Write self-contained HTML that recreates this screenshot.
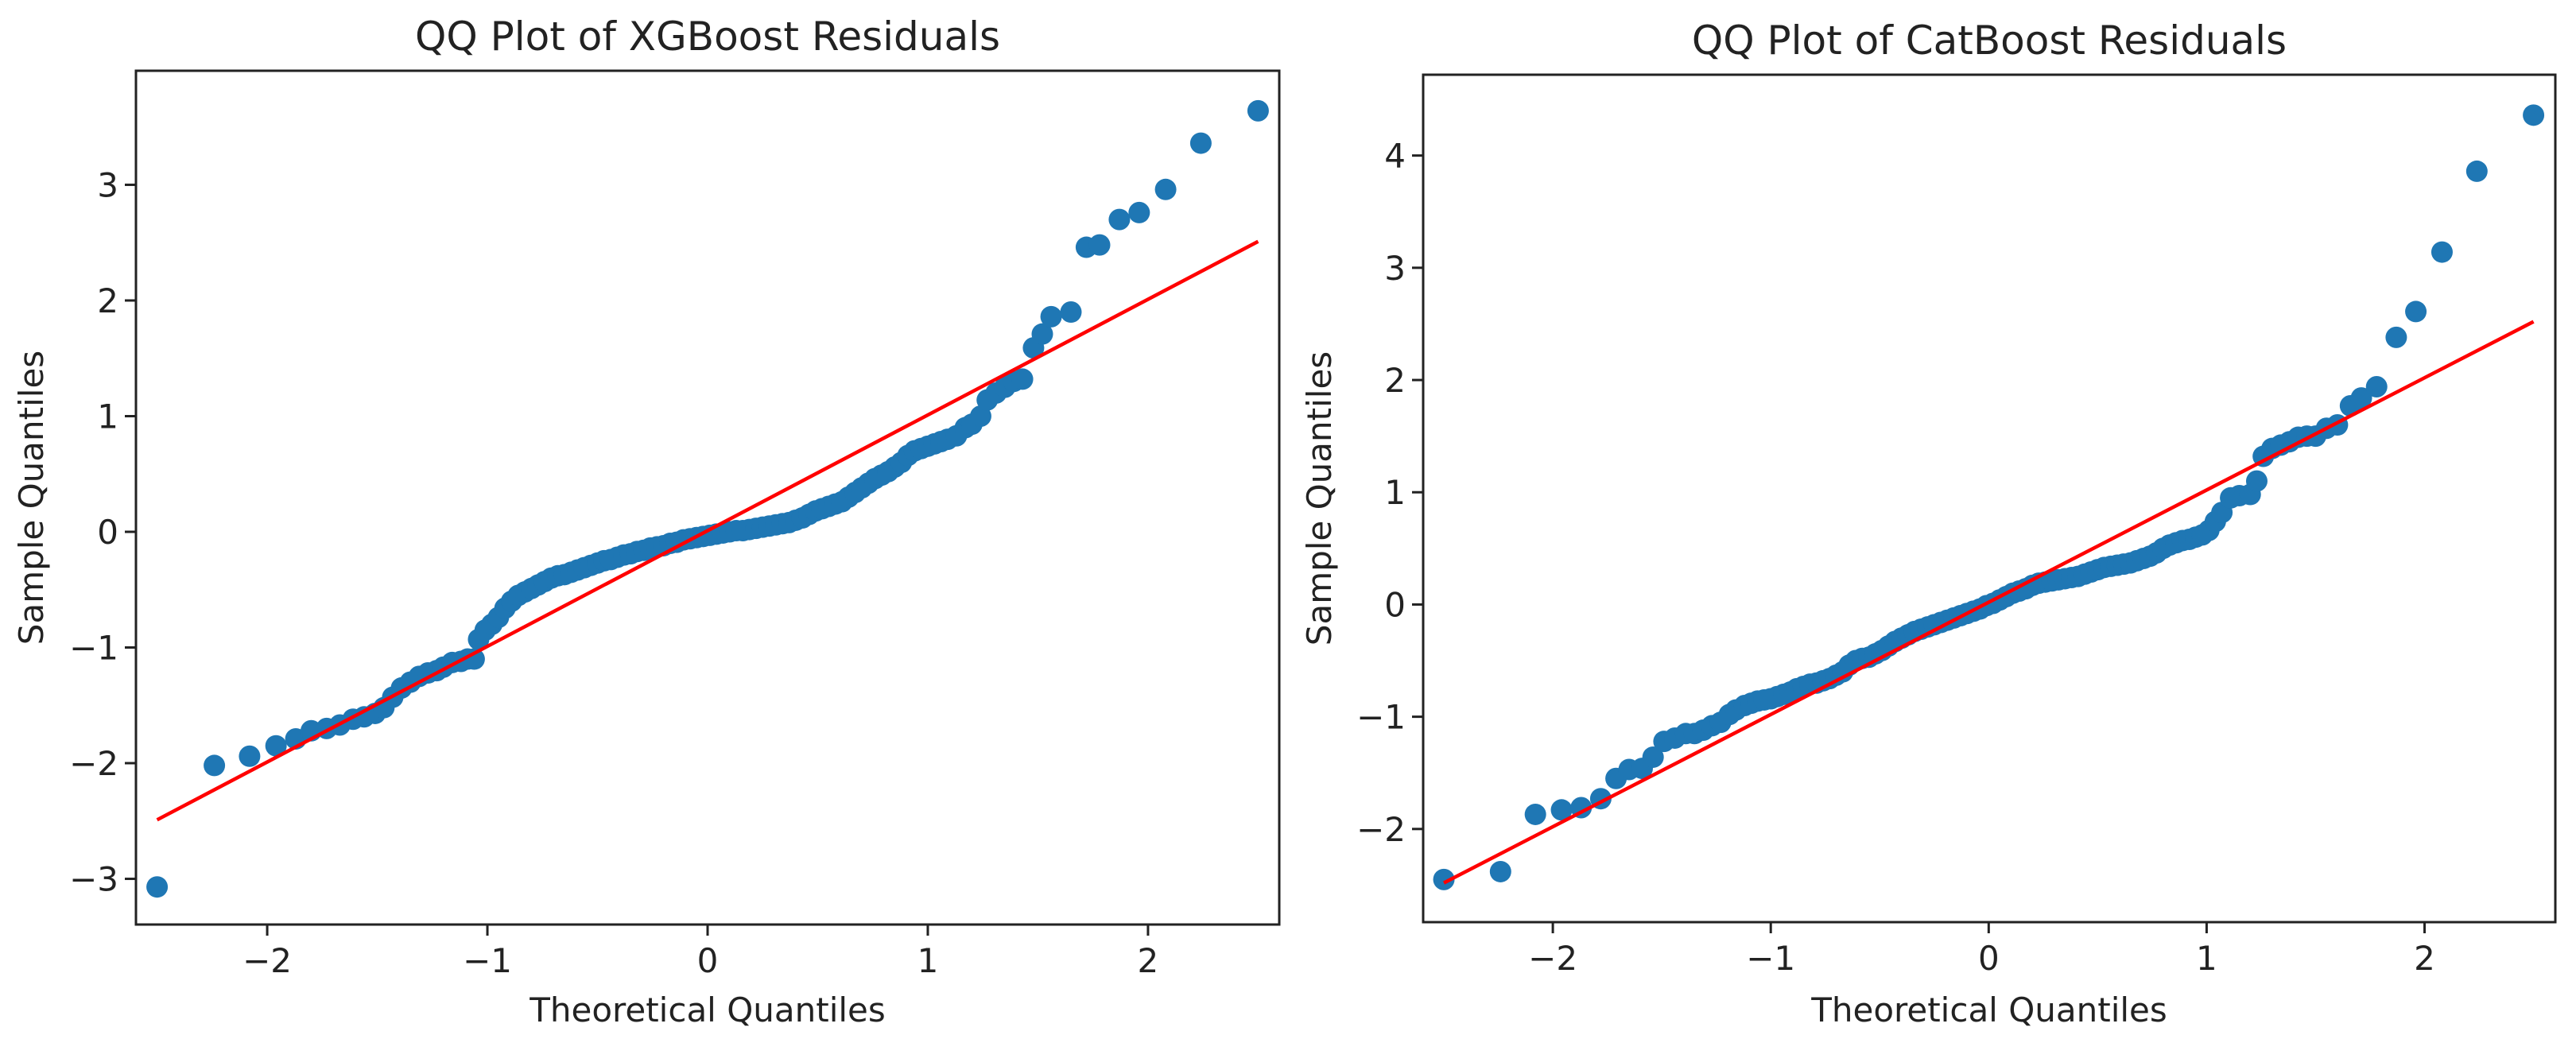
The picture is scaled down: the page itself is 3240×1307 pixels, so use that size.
<!DOCTYPE html>
<html><head><meta charset="utf-8"><style>
html,body{margin:0;padding:0;background:#fff;}
svg text{font-family:"DejaVu Sans","Liberation Sans",sans-serif;fill:#222;}
</style></head><body>
<svg id="fig" width="3240" height="1302" viewBox="0 0 3240 1302" xmlns="http://www.w3.org/2000/svg"></svg>
<script>
// XGBoost residuals
const xgbTheoretical = [-2.5,-2.24,-2.08,-1.96,-1.87,-1.8,-1.73,-1.67,-1.61,-1.56,-1.51,-1.47,-1.43,-1.39,-1.35,-1.31,-1.27,-1.23,-1.2,-1.16,-1.12,-1.09,-1.06,-1.04,-1.01,-0.98,-0.95,-0.92,-0.89,-0.86,-0.83,-0.8,-0.77,-0.74,-0.71,-0.68,-0.65,-0.62,-0.59,-0.56,-0.53,-0.5,-0.47,-0.44,-0.41,-0.38,-0.35,-0.32,-0.29,-0.26,-0.23,-0.2,-0.17,-0.14,-0.11,-0.08,-0.05,-0.02,0.01,0.04,0.07,0.1,0.13,0.16,0.19,0.22,0.25,0.28,0.31,0.34,0.37,0.4,0.43,0.46,0.49,0.52,0.55,0.58,0.61,0.64,0.67,0.7,0.73,0.76,0.79,0.82,0.85,0.88,0.91,0.94,0.97,1.0,1.03,1.06,1.09,1.13,1.17,1.2,1.24,1.27,1.31,1.35,1.39,1.43,1.48,1.52,1.56,1.65,1.72,1.78,1.87,1.96,2.08,2.24,2.5];
const xgbSample = [-3.07,-2.02,-1.94,-1.85,-1.79,-1.72,-1.7,-1.67,-1.62,-1.6,-1.57,-1.52,-1.43,-1.35,-1.3,-1.25,-1.22,-1.2,-1.17,-1.13,-1.12,-1.1,-1.1,-0.93,-0.85,-0.8,-0.74,-0.66,-0.6,-0.55,-0.52,-0.49,-0.46,-0.43,-0.4,-0.38,-0.37,-0.35,-0.33,-0.31,-0.29,-0.27,-0.25,-0.24,-0.22,-0.2,-0.19,-0.17,-0.16,-0.14,-0.13,-0.12,-0.1,-0.09,-0.07,-0.06,-0.05,-0.04,-0.03,-0.02,-0.01,0.0,0.01,0.01,0.02,0.03,0.04,0.05,0.06,0.07,0.08,0.1,0.12,0.15,0.18,0.2,0.22,0.24,0.26,0.3,0.34,0.38,0.42,0.46,0.49,0.52,0.56,0.6,0.66,0.7,0.72,0.74,0.76,0.78,0.8,0.83,0.9,0.93,1.0,1.14,1.2,1.25,1.3,1.32,1.59,1.71,1.86,1.9,2.46,2.48,2.7,2.76,2.96,3.36,3.64];
const xgbLine = [[-2.5,-2.49],[2.5,2.51]];
const xgbXTicks = [-2,-1,0,1,2];
const xgbYTicks = [-3,-2,-1,0,1,2,3];
// CatBoost residuals
const catTheoretical = [-2.5,-2.24,-2.08,-1.96,-1.87,-1.78,-1.71,-1.65,-1.59,-1.54,-1.49,-1.44,-1.39,-1.35,-1.31,-1.27,-1.23,-1.19,-1.16,-1.12,-1.09,-1.06,-1.03,-1.0,-0.97,-0.94,-0.91,-0.88,-0.85,-0.82,-0.79,-0.76,-0.73,-0.7,-0.67,-0.64,-0.61,-0.58,-0.55,-0.52,-0.49,-0.46,-0.43,-0.4,-0.37,-0.34,-0.31,-0.28,-0.25,-0.22,-0.19,-0.16,-0.13,-0.1,-0.07,-0.04,-0.01,0.02,0.05,0.08,0.11,0.14,0.17,0.2,0.23,0.26,0.29,0.32,0.35,0.38,0.41,0.44,0.47,0.5,0.53,0.56,0.59,0.62,0.65,0.68,0.71,0.74,0.77,0.8,0.83,0.86,0.89,0.92,0.95,0.98,1.01,1.04,1.07,1.11,1.15,1.2,1.23,1.26,1.3,1.34,1.38,1.42,1.46,1.5,1.55,1.6,1.66,1.71,1.78,1.87,1.96,2.08,2.24,2.5];
const catSample = [-2.45,-2.38,-1.87,-1.83,-1.81,-1.73,-1.55,-1.47,-1.46,-1.36,-1.22,-1.19,-1.15,-1.15,-1.12,-1.08,-1.05,-0.98,-0.94,-0.9,-0.88,-0.86,-0.85,-0.84,-0.82,-0.8,-0.78,-0.75,-0.73,-0.71,-0.7,-0.68,-0.66,-0.63,-0.6,-0.54,-0.5,-0.48,-0.47,-0.44,-0.41,-0.37,-0.33,-0.3,-0.27,-0.24,-0.22,-0.2,-0.18,-0.16,-0.14,-0.12,-0.1,-0.08,-0.06,-0.04,-0.01,0.01,0.04,0.07,0.1,0.12,0.14,0.17,0.19,0.2,0.21,0.22,0.23,0.24,0.25,0.27,0.29,0.31,0.33,0.34,0.35,0.36,0.37,0.39,0.41,0.43,0.46,0.5,0.53,0.55,0.57,0.58,0.6,0.62,0.66,0.74,0.82,0.95,0.97,0.98,1.1,1.32,1.39,1.42,1.45,1.49,1.5,1.5,1.57,1.6,1.77,1.84,1.94,2.38,2.61,3.14,3.86,4.36];
const catLine = [[-2.5,-2.48],[2.5,2.52]];
const catXTicks = [-2,-1,0,1,2];
const catYTicks = [-2,-1,0,1,2,3,4];

const NS='http://www.w3.org/2000/svg';
const svg=document.getElementById('fig');
function mk(tag,attrs,parent){const e=document.createElementNS(NS,tag);for(const k in attrs)e.setAttribute(k,attrs[k]);(parent||svg).appendChild(e);return e;}

function panel(p){
  const g=mk('g',{});
  
  
  const sx=v=>p.L+(v-p.xmin)/(p.xmax-p.xmin)*(p.R-p.L);
  const sy=v=>p.B-(v-p.ymin)/(p.ymax-p.ymin)*(p.B-p.T);
  // points
  const pg=mk('g',{},g);
  
  
  for(let i=0;i<p.xs.length;i++){
    const c=mk('circle',{cx:sx(p.xs[i]),cy:sy(p.ys[i]),r:13.5,fill:'#1f77b4'},pg);
    
    
  }
  const ln=mk('line',{x1:sx(p.line[0][0]),y1:sy(p.line[0][1]),x2:sx(p.line[1][0]),y2:sy(p.line[1][1]),stroke:'#ff0000','stroke-width':4.5},g);
  
  
  const fr=mk('rect',{x:p.L,y:p.T,width:p.R-p.L,height:p.B-p.T,fill:'none',stroke:'#222','stroke-width':3},g);
  
  
  p.xt.forEach(v=>{
    const x=sx(v);
    const t=mk('line',{x1:x,y1:p.B,x2:x,y2:p.B+14,stroke:'#222','stroke-width':3},g);
    
    
    const tx=mk('text',{x:x,y:p.B+60,'font-size':42,'text-anchor':'middle'},g);
    tx.textContent=(v<0?'\u2212':'')+Math.abs(v);
    
    
  });
  p.yt.forEach(v=>{
    const y=sy(v);
    const t=mk('line',{x1:p.L-14,y1:y,x2:p.L,y2:y,stroke:'#222','stroke-width':3},g);
    
    
    const tx=mk('text',{x:p.L-22,y:y+15,'font-size':42,'text-anchor':'end'},g);
    tx.textContent=(v<0?'\u2212':'')+Math.abs(v);
    
    
  });
  const ti=mk('text',{x:(p.L+p.R)/2,y:p.T-26,'font-size':50,'text-anchor':'middle'},g);
  ti.textContent=p.title;
  
  
  const xl=mk('text',{x:(p.L+p.R)/2,y:1285,'font-size':42,'text-anchor':'middle'},g);
  xl.textContent='Theoretical Quantiles';
  
  
  const yc=(p.T+p.B)/2;
  const yl=mk('text',{x:p.ylx,y:yc,'font-size':42,'text-anchor':'middle',transform:`rotate(-90 ${p.ylx} ${yc})`},g);
  yl.textContent='Sample Quantiles';
  
  
}
panel({name:'xgboost-qq-plot',title:'QQ Plot of XGBoost Residuals',L:171,R:1609,T:89,B:1163,xmin:-2.596,xmax:2.596,ymin:-3.395,ymax:3.986,xs:xgbTheoretical,ys:xgbSample,line:xgbLine,xt:xgbXTicks,yt:xgbYTicks,ylx:54});
panel({name:'catboost-qq-plot',title:'QQ Plot of CatBoost Residuals',L:1790,R:3214,T:94,B:1160,xmin:-2.595,xmax:2.6,ymin:-2.83,ymax:4.72,xs:catTheoretical,ys:catSample,line:catLine,xt:catXTicks,yt:catYTicks,ylx:1674});
</script>
</body></html>
